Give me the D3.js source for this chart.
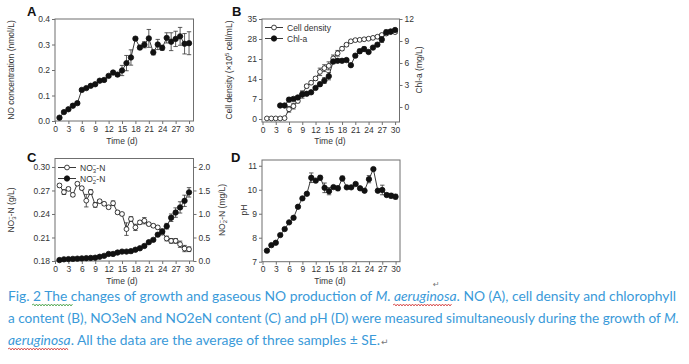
<!DOCTYPE html>
<html><head><meta charset="utf-8">
<script src="https://cdn.jsdelivr.net/npm/d3@7"></script>
<style>body{margin:0;background:#fff}svg{display:block}</style>
</head><body><svg id="c" width="689" height="364"></svg>
<script>
const days = d3.range(1, 31);
const xTicks = [0,3,6,9,12,15,18,21,24,27,30];
// Panel A: NO concentration (nmol/L)
const noConc = [0.013,0.035,0.046,0.060,0.070,0.122,0.129,0.138,0.144,0.158,0.161,0.177,0.190,0.182,0.198,0.227,0.249,0.323,0.288,0.299,0.324,0.269,0.300,0.287,0.326,0.311,0.322,0.332,0.303,0.305];
const noErr  = [0.003,0.004,0.004,0.007,0.006,0.005,0.004,0.004,0.005,0.004,0.004,0.005,0.005,0.006,0.020,0.030,0.030,0.006,0.008,0.012,0.035,0.010,0.020,0.010,0.020,0.035,0.030,0.035,0.040,0.045];
const yTicksA = [0,0.1,0.2,0.3,0.4];
// Panel B: cell density (x10^5 cell/mL) and Chl-a (mg/L)
const cellDensity = [0.2,0.2,0.2,0.2,0.3,3.4,4.5,6.3,8.8,11.5,12.7,14.2,16.5,17.8,18.6,21.2,23.0,24.6,26.0,27.2,27.6,27.7,27.9,28.1,28.4,28.8,29.4,29.9,30.4,30.4];
const cellErr = [0.3,0.2,0.2,0.2,0.2,1.0,1.0,0.6,0.8,0.6,0.5,0.6,1.3,1.2,1.4,1.2,1.0,0.6,0.5,0.4,0.4,0.3,0.3,0.3,0.4,0.4,0.5,0.6,0.4,0.4];
const chlDays = d3.range(4, 31);
const chlA = [0.2,0.2,1.0,1.1,1.3,1.7,1.8,2.0,2.6,3.1,3.6,4.2,6.2,6.3,6.3,6.4,5.7,7.0,7.6,7.9,7.5,8.1,8.5,9.2,10.2,10.3,10.5];
const chlErr = [0.1,0.1,0.3,0.2,0.2,0.5,0.2,0.2,0.2,0.3,0.4,0.5,0.3,0.2,0.2,0.2,0.2,0.2,0.3,0.3,0.2,0.2,0.2,0.4,0.3,0.2,0.2];
const yTicksB = [0,7,14,21,28,35];
const yTicksB2 = [0,3,6,9,12];
// Panel C: NO3-N (g/L) and NO2-N (mg/L)
const no3 = [0.2764,0.2679,0.2720,0.2644,0.2786,0.2730,0.2570,0.2680,0.2516,0.2563,0.2530,0.2486,0.2537,0.2421,0.2400,0.2207,0.2336,0.2229,0.2293,0.2314,0.2271,0.2250,0.2229,0.2164,0.2087,0.2057,0.2057,0.2014,0.1959,0.1950];
const no3Err = [0.002,0.003,0.002,0.002,0.002,0.002,0.008,0.003,0.003,0.002,0.002,0.002,0.003,0.002,0.002,0.008,0.003,0.004,0.002,0.004,0.002,0.002,0.002,0.003,0.003,0.003,0.003,0.004,0.004,0.003];
const no2 = [0.02,0.035,0.04,0.045,0.05,0.055,0.06,0.065,0.07,0.09,0.11,0.15,0.15,0.18,0.20,0.20,0.21,0.24,0.27,0.32,0.40,0.45,0.56,0.63,0.74,0.92,1.03,1.14,1.28,1.46];
const no2Err = [0.01,0.01,0.01,0.01,0.01,0.01,0.01,0.01,0.01,0.01,0.01,0.01,0.01,0.01,0.01,0.01,0.01,0.01,0.01,0.02,0.02,0.02,0.03,0.05,0.06,0.08,0.10,0.12,0.12,0.10];
const yTicksC = [0.18,0.21,0.24,0.27,0.30];
const yTicksC2 = [0,0.5,1.0,1.5,2.0];
// Panel D: pH
const ph = [7.46,7.69,7.79,8.11,8.36,8.64,8.83,9.29,9.64,9.83,10.50,10.38,10.50,10.08,9.94,10.11,10.06,10.47,10.10,10.10,10.24,10.06,9.96,10.44,10.86,9.96,9.99,9.78,9.75,9.71];
const phErr = [0.03,0.03,0.05,0.03,0.03,0.03,0.05,0.05,0.05,0.05,0.20,0.05,0.10,0.20,0.15,0.05,0.10,0.10,0.04,0.04,0.04,0.04,0.04,0.15,0.04,0.05,0.20,0.07,0.10,0.10];
const yTicksD = [7,8,9,10,11];

const FONT = '"Liberation Sans", Arial, sans-serif';
const svg = d3.select('#c');

function frame(p){
  svg.append('rect').attr('x',p.L).attr('y',p.T).attr('width',p.R-p.L).attr('height',p.B-p.T)
    .attr('fill','none').attr('stroke','#6f6f6f').attr('stroke-width',1);
}
function axis(gen, tx, ty){
  const g = svg.append('g').attr('transform',`translate(${tx},${ty})`).call(gen)
    .attr('font-size',8.5).attr('font-family',FONT);
  g.select('.domain').remove();
  g.selectAll('line').attr('stroke','#6f6f6f');
  g.selectAll('text').attr('fill','#333');
  return g;
}
function series(xs, ys, errs, x, y, filled){
  const g = svg.append('g');
  g.append('path').datum(xs.map((d,i)=>[d,ys[i]]))
    .attr('d', d3.line().x(d=>x(d[0])).y(d=>y(d[1])))
    .attr('fill','none').attr('stroke','#222').attr('stroke-width',0.9);
  g.selectAll('path.err').data(xs).join('path').attr('class','err')
    .attr('d',(d,i)=>{const cx=x(d), y1=y(ys[i]-errs[i]), y2=y(ys[i]+errs[i]);
      return `M${cx},${y1}V${y2}M${cx-2.2},${y1}H${cx+2.2}M${cx-2.2},${y2}H${cx+2.2}`;})
    .attr('stroke','#333').attr('stroke-width',0.8).attr('fill','none');
  g.selectAll('circle').data(xs).join('circle')
    .attr('cx',d=>x(d)).attr('cy',(d,i)=>y(ys[i]))
    .attr('r', filled?2.7:2.4).attr('fill', filled?'#111':'#fff')
    .attr('stroke','#111').attr('stroke-width',0.8);
}
function label(txt, x, y){
  svg.append('text').attr('x',x).attr('y',y).text(txt)
    .attr('font-family',FONT).attr('font-weight','bold').attr('font-size',13).attr('fill','#111');
}
function xtitle(x,y){
  svg.append('text').attr('x',x).attr('y',y).attr('text-anchor','middle').text('Time (d)')
    .attr('font-family',FONT).attr('font-size',8.5).attr('fill','#333');
}
function ytitle(x,y){
  return svg.append('text').attr('transform',`translate(${x},${y}) rotate(-90)`).attr('text-anchor','middle')
    .attr('font-family',FONT).attr('font-size',8.5).attr('fill','#333');
}
function xAxisBottom(x, p){
  axis(d3.axisBottom(x).tickValues(xTicks).tickSize(3).tickSizeOuter(0).tickPadding(1.5), 0, p.B);
}

// ---------- Panel A ----------
const pA = {L:55, R:193.5, T:19, B:121};
const xA = d3.scaleLinear().domain([0,31]).range([pA.L, pA.R]);
const yA = d3.scaleLinear().domain([0,0.4]).range([pA.B, pA.T]);
frame(pA);
axis(d3.axisLeft(yA).tickValues(yTicksA).tickFormat(d3.format('.1f')).tickSize(3).tickPadding(2), pA.L, 0);
xAxisBottom(xA, pA);
series(days, noConc, noErr, xA, yA, true);
label('A', 27, 16);
xtitle(122, 144);
ytitle(14, 70).text('NO concentration (nmol/L)');

// ---------- Panel B ----------
const pB = {L:262, R:399.5, T:19, B:122};
const xB = d3.scaleLinear().domain([0,31]).range([262.5, pB.R]);
const yB = d3.scaleLinear().domain([-1.05,35]).range([pB.B, pB.T]);
const yB2 = d3.scaleLinear().domain([-2.05,12]).range([pB.B, pB.T]);
frame(pB);
axis(d3.axisLeft(yB).tickValues(yTicksB).tickSize(3).tickPadding(2), pB.L, 0);
axis(d3.axisRight(yB2).tickValues(yTicksB2).tickSize(3).tickPadding(2), pB.R, 0);
xAxisBottom(xB, pB);
series(days, cellDensity, cellErr, xB, yB, false);
series(chlDays, chlA, chlErr, xB, yB2, true);
label('B', 232, 16);
xtitle(330, 144);
{ const t = ytitle(232, 70); t.append('tspan').text('Cell density (\u00d710');
  t.append('tspan').attr('font-size',6).attr('dy',-3).text('5');
  t.append('tspan').attr('dy',3).text(' cell/mL)'); }
ytitle(422, 70).text('Chl-a (mg/L)');
// legend B
function legendRow(x0, y0, filled, build){
  svg.append('line').attr('x1',x0).attr('x2',x0+18).attr('y1',y0).attr('y2',y0).attr('stroke','#222').attr('stroke-width',0.9);
  svg.append('circle').attr('cx',x0+9).attr('cy',y0).attr('r',filled?2.7:2.4)
    .attr('fill',filled?'#111':'#fff').attr('stroke','#111').attr('stroke-width',0.8);
  const t = svg.append('text').attr('x',x0+22).attr('y',y0+3).attr('font-family',FONT).attr('font-size',8.5).attr('fill','#333');
  build(t);
}
legendRow(265, 27.5, false, t=>t.text('Cell density'));
legendRow(265, 38.5, true, t=>t.text('Chl-a'));

// ---------- Panel C ----------
const pC = {L:55, R:193.5, T:158.5, B:261};
const xC = d3.scaleLinear().domain([0,31]).range([pC.L, pC.R]);
const yC = d3.scaleLinear().domain([0.18,0.3108]).range([pC.B, pC.T]);
const yC2 = d3.scaleLinear().domain([0,2.18]).range([pC.B, pC.T]);
frame(pC);
axis(d3.axisLeft(yC).tickValues(yTicksC).tickFormat(d3.format('.2f')).tickSize(3).tickPadding(2), pC.L, 0);
axis(d3.axisRight(yC2).tickValues(yTicksC2).tickFormat(d3.format('.1f')).tickSize(3).tickPadding(2), pC.R, 0);
xAxisBottom(xC, pC);
series(days, no3, no3Err, xC, yC, false);
series(days, no2, no2Err, xC, yC2, true);
label('C', 27, 162);
xtitle(122, 284);
function nox(t, n, tail){
  t.append('tspan').text('NO');
  t.append('tspan').attr('font-size',6).attr('dy',2).text(n);
  t.append('tspan').attr('font-size',6).attr('dy',-5.5).attr('dx',-3.3).text('\u2212');
  t.append('tspan').attr('dy',3.5).text('-N' + tail);
}
nox(ytitle(14, 210), '3', ' (g/L)');
nox(ytitle(225, 210), '2', ' (mg/L)');
legendRow(58, 167.5, false, t=>nox(t,'3',''));
legendRow(58, 178.5, true, t=>nox(t,'2',''));

// ---------- Panel D ----------
const pD = {L:262, R:400, T:160, B:261.7};
const xD = d3.scaleLinear().domain([0,31]).range([262.5, pD.R]);
const yD = d3.scaleLinear().domain([7,11.24]).range([pD.B, pD.T]);
frame(pD);
axis(d3.axisLeft(yD).tickValues(yTicksD).tickFormat(d3.format('d')).tickSize(3).tickPadding(2), pD.L, 0);
xAxisBottom(xD, pD);
series(days, ph, phErr, xD, yD, true);
label('D', 231, 162);
xtitle(330, 284);
ytitle(247, 210).text('pH');

// return mark next to the figure
svg.append('text').attr('x',433).attr('y',287).text('\u21b5').attr('font-size',8).attr('fill','#777').attr('font-family','"DejaVu Sans"');

// ---------- Caption ----------
const CAP = '#3a9ad9';
const capFont = 'Lato, "Open Sans", sans-serif';
function capLine(y, parts, len){
  const t = svg.append('text').attr('x',8).attr('y',y).attr('font-family',capFont).attr('font-size',13).attr('fill',CAP);
  if (len) t.attr('textLength',len).attr('lengthAdjust','spacingAndGlyphs');
  parts.forEach(p=>{const s=t.append('tspan').text(p.t); if(p.i) s.attr('font-style','italic');});
  return t;
}
capLine(301, [{t:'Fig. 2  The changes of growth and gaseous NO production of '},{t:'M. aeruginosa',i:1},{t:'. NO (A), cell density and chlorophyll'}], 668);
capLine(323, [{t:'a content (B), NO3eN and NO2eN content (C) and pH (D) were measured simultaneously during the growth of '},{t:'M.',i:1}], 671);
capLine(345, [{t:'aeruginosa',i:1},{t:'. All the data are the average of three samples \u00b1 SE.'}], 372);
svg.append('text').attr('x',381).attr('y',345).text('\u21b5').attr('font-size',9).attr('fill','#777').attr('font-family','"DejaVu Sans"');
function wavy(x1, x2, y, col){
  let d = `M${x1},${y}`; let up = true;
  for (let x = x1 + 1.5; x <= x2; x += 1.5){ d += `L${x},${y + (up ? -1 : 1)}`; up = !up; }
  svg.append('path').attr('d', d).attr('fill','none').attr('stroke', col).attr('stroke-width', 0.8);
}
// squiggle underlines (spell check marks)
wavy(32, 73, 305, '#3a9a3a');
wavy(393, 452, 305, '#d03030');
wavy(8, 68, 349, '#d03030');
</script></body></html>
